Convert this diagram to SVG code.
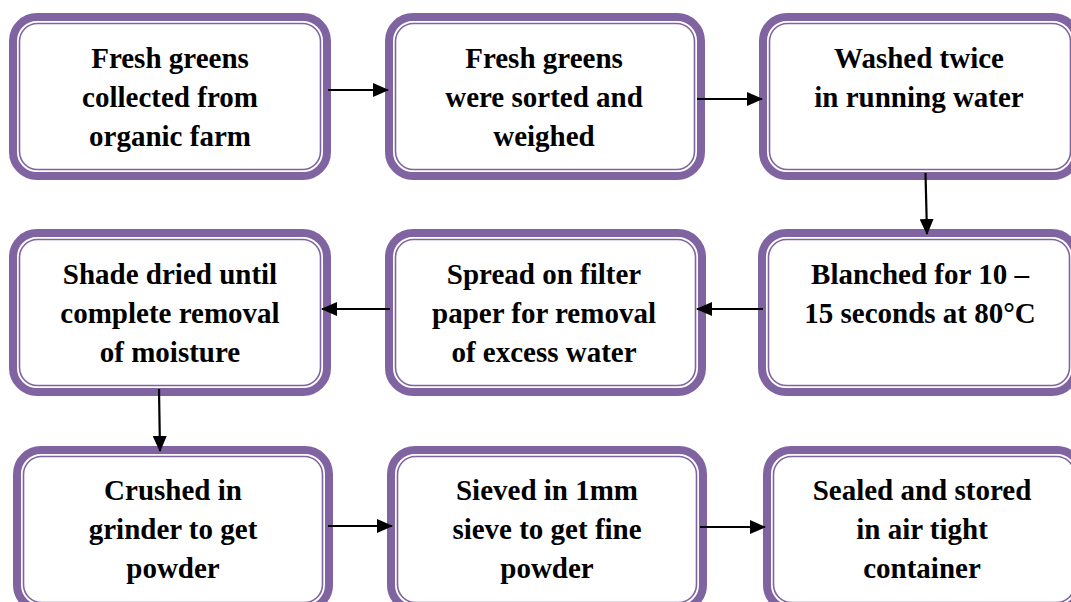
<svg xmlns="http://www.w3.org/2000/svg" width="1071" height="602" viewBox="0 0 1071 602">
<style>
.outer{fill:#fff;stroke:#8064A2;stroke-width:8}
.inner{fill:none;stroke:#8064A2;stroke-width:1.6}
.t{font-family:'Liberation Serif','Times New Roman','DejaVu Serif',serif;font-weight:bold;font-size:29px;fill:#000;text-anchor:middle}
.c line{stroke:#000;stroke-width:2.2}
</style>
<defs>
<marker id="ah" markerWidth="16" markerHeight="14" refX="15" refY="7" orient="auto" markerUnits="userSpaceOnUse">
<path d="M0,0 L16,7 L0,14 Z" fill="#000"/>
</marker>
</defs>
<rect width="1071" height="602" fill="#fff"/>
<g id="n1"><rect class="outer" x="13" y="17" width="314" height="159" rx="24"/><rect class="inner" x="19.5" y="23.5" width="301" height="146" rx="18"/>
<text class="t" font-family="Liberation Serif, serif" x="170" y="68">Fresh greens</text><text class="t" font-family="Liberation Serif, serif" x="170" y="107">collected from</text><text class="t" font-family="Liberation Serif, serif" x="170" y="146">organic farm</text></g>
<g id="n2"><rect class="outer" x="389" y="17" width="312" height="159" rx="24"/><rect class="inner" x="395.5" y="23.5" width="299" height="146" rx="18"/>
<text class="t" font-family="Liberation Serif, serif" x="544" y="68">Fresh greens</text><text class="t" font-family="Liberation Serif, serif" x="544" y="107">were sorted and</text><text class="t" font-family="Liberation Serif, serif" x="544" y="146">weighed</text></g>
<g id="n3"><rect class="outer" x="763" y="17" width="314" height="159" rx="24"/><rect class="inner" x="769.5" y="23.5" width="301" height="146" rx="18"/>
<text class="t" font-family="Liberation Serif, serif" x="919" y="68">Washed twice</text><text class="t" font-family="Liberation Serif, serif" x="919" y="107">in running water</text></g>
<g id="n4"><rect class="outer" x="762" y="233" width="314" height="159" rx="24"/><rect class="inner" x="768.5" y="239.5" width="301" height="146" rx="18"/>
<text class="t" font-family="Liberation Serif, serif" x="920" y="284">Blanched for 10 –</text><text class="t" font-family="Liberation Serif, serif" x="920" y="323">15 seconds at 80°C</text></g>
<g id="n5"><rect class="outer" x="389" y="233" width="313" height="159" rx="24"/><rect class="inner" x="395.5" y="239.5" width="300" height="146" rx="18"/>
<text class="t" font-family="Liberation Serif, serif" x="544" y="284">Spread on filter</text><text class="t" font-family="Liberation Serif, serif" x="544" y="323">paper for removal</text><text class="t" font-family="Liberation Serif, serif" x="544" y="362">of excess water</text></g>
<g id="n6"><rect class="outer" x="13" y="233" width="314" height="159" rx="24"/><rect class="inner" x="19.5" y="239.5" width="301" height="146" rx="18"/>
<text class="t" font-family="Liberation Serif, serif" x="170" y="284">Shade dried until</text><text class="t" font-family="Liberation Serif, serif" x="170" y="323">complete removal</text><text class="t" font-family="Liberation Serif, serif" x="170" y="362">of moisture</text></g>
<g id="n7"><rect class="outer" x="17" y="450" width="312" height="159" rx="24"/><rect class="inner" x="23.5" y="456.5" width="299" height="146" rx="18"/>
<text class="t" font-family="Liberation Serif, serif" x="173" y="500">Crushed in</text><text class="t" font-family="Liberation Serif, serif" x="173" y="539">grinder to get</text><text class="t" font-family="Liberation Serif, serif" x="173" y="578">powder</text></g>
<g id="n8"><rect class="outer" x="391" y="450" width="312" height="159" rx="24"/><rect class="inner" x="397.5" y="456.5" width="299" height="146" rx="18"/>
<text class="t" font-family="Liberation Serif, serif" x="547" y="500">Sieved in 1mm</text><text class="t" font-family="Liberation Serif, serif" x="547" y="539">sieve to get fine</text><text class="t" font-family="Liberation Serif, serif" x="547" y="578">powder</text></g>
<g id="n9"><rect class="outer" x="767" y="450" width="314" height="159" rx="24"/><rect class="inner" x="773.5" y="456.5" width="301" height="146" rx="18"/>
<text class="t" font-family="Liberation Serif, serif" x="922" y="500">Sealed and stored</text><text class="t" font-family="Liberation Serif, serif" x="922" y="539">in air tight</text><text class="t" font-family="Liberation Serif, serif" x="922" y="578">container</text></g>
<g class="c">
<line x1="328" y1="90" x2="388" y2="90" marker-end="url(#ah)"/>
<line x1="697" y1="99" x2="762" y2="99" marker-end="url(#ah)"/>
<line x1="925.5" y1="173" x2="927" y2="234" marker-end="url(#ah)"/>
<line x1="763" y1="309" x2="697" y2="309" marker-end="url(#ah)"/>
<line x1="390" y1="309" x2="322" y2="309" marker-end="url(#ah)"/>
<line x1="159" y1="389" x2="160" y2="451" marker-end="url(#ah)"/>
<line x1="328" y1="526" x2="392" y2="526" marker-end="url(#ah)"/>
<line x1="700" y1="527" x2="765" y2="527" marker-end="url(#ah)"/>
</g>
</svg>
